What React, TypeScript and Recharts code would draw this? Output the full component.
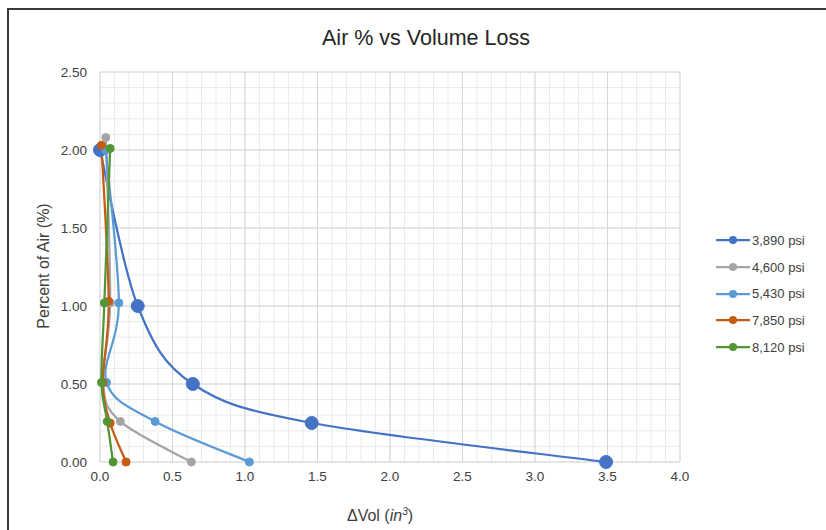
import React from 'react';
import { LineChart, Line, XAxis, YAxis, CartesianGrid, Legend } from 'recharts';

// ---- data ----
const seriesNames = ['3,890 psi', '4,600 psi', '5,430 psi', '7,850 psi', '8,120 psi'];
const seriesColors = ['#4472C4', '#A5A5A5', '#5B9BD5', '#C55A11', '#529535'];
const markerRadius = [6.5, 4, 4, 4, 4];

const psi3890 = [
  { x: 0.0, y: 2.0 },
  { x: 0.26, y: 1.0 },
  { x: 0.64, y: 0.5 },
  { x: 1.46, y: 0.25 },
  { x: 3.49, y: 0.0 },
];
const psi4600 = [
  { x: 0.04, y: 2.08 },
  { x: 0.07, y: 1.02 },
  { x: 0.02, y: 0.51 },
  { x: 0.14, y: 0.26 },
  { x: 0.63, y: 0.0 },
];
const psi5430 = [
  { x: 0.04, y: 2.0 },
  { x: 0.13, y: 1.02 },
  { x: 0.045, y: 0.51 },
  { x: 0.38, y: 0.26 },
  { x: 1.03, y: 0.0 },
];
const psi7850 = [
  { x: 0.01, y: 2.03 },
  { x: 0.06, y: 1.03 },
  { x: 0.02, y: 0.51 },
  { x: 0.07, y: 0.25 },
  { x: 0.18, y: 0.0 },
];
const psi8120 = [
  { x: 0.07, y: 2.01 },
  { x: 0.03, y: 1.02 },
  { x: 0.01, y: 0.51 },
  { x: 0.05, y: 0.26 },
  { x: 0.09, y: 0.0 },
];
const seriesData = [psi3890, psi4600, psi5430, psi7850, psi8120];

const xTicks = [0, 0.5, 1, 1.5, 2, 2.5, 3, 3.5, 4];
const yTicks = [0, 0.5, 1, 1.5, 2, 2.5];
const xMinorTicks = Array.from({ length: 41 }, (_, i) => i / 10);
const yMinorTicks = Array.from({ length: 26 }, (_, i) => i / 10);

const titleText = 'Air % vs Volume Loss';
const yTitle = 'Percent of Air (%)';

const FONT = '"Liberation Sans", Arial, sans-serif';
const TEXT = '#404040';

const applyScale = (scale: any, v: number): number => {
  if (typeof scale === 'function') return scale(v);
  if (scale && typeof scale.map === 'function') return scale.map(v);
  return NaN;
};

// Excel-like smoothing (Catmull-Rom via cubic Bezier)
function smoothCurve(context: any) {
  let pts: number[][] = [];
  return {
    areaStart() {},
    areaEnd() {},
    lineStart() {
      pts = [];
    },
    point(x: number, y: number) {
      pts.push([+x, +y]);
    },
    lineEnd() {
      const n = pts.length;
      if (!n) return;
      context.moveTo(pts[0][0], pts[0][1]);
      for (let i = 0; i < n - 1; i++) {
        const p0 = pts[i - 1] || pts[i];
        const p1 = pts[i];
        const p2 = pts[i + 1];
        const p3 = pts[i + 2] || p2;
        const t = 1 / 6;
        context.bezierCurveTo(
          p1[0] + (p2[0] - p0[0]) * t,
          p1[1] + (p2[1] - p0[1]) * t,
          p2[0] - (p3[0] - p1[0]) * t,
          p2[1] - (p3[1] - p1[1]) * t,
          p2[0],
          p2[1]
        );
      }
    },
  };
}

const renderLegend = (props: any) => {
  const payload = props.payload || [];
  return (
    <div style={{ fontFamily: FONT }}>
      {payload.map((e: any, i: number) => (
        <div key={i} style={{ display: 'flex', alignItems: 'center', height: 26.7 }}>
          <svg width={34} height={10} style={{ display: 'block' }}>
            <line x1={0} y1={5} x2={34} y2={5} stroke={e.color} strokeWidth={2.25} />
            <circle cx={17} cy={5} r={4} fill={e.color} />
          </svg>
          <span style={{ marginLeft: 2, fontSize: 13, color: TEXT, whiteSpace: 'nowrap' }}>{e.value}</span>
        </div>
      ))}
    </div>
  );
};

export default function App() {
  return (
    <div style={{ position: 'fixed', left: 0, top: 0, width: 826, height: 530, overflow: 'hidden', background: '#fff' }}>
      <div
        style={{
          position: 'absolute',
          left: 7,
          top: 8,
          width: 840,
          height: 540,
          border: '2px solid #3a3a3a',
          boxSizing: 'border-box',
        }}
      />
      <div style={{ position: 'absolute', left: 0, top: 0 }}>
        <LineChart width={826} height={530} margin={{ top: 72, right: 146, left: 0, bottom: 0 }}>
          <CartesianGrid
            stroke="#ebebeb"
            strokeWidth={1}
            verticalCoordinatesGenerator={(p: any) => xMinorTicks.map((v) => applyScale(p.xAxis && p.xAxis.scale, v))}
            horizontalCoordinatesGenerator={(p: any) => yMinorTicks.map((v) => applyScale(p.yAxis && p.yAxis.scale, v))}
          />
          <CartesianGrid stroke="#d6d6d6" strokeWidth={1} />
          <XAxis
            type="number"
            dataKey="x"
            domain={[0, 4]}
            ticks={xTicks}
            tickFormatter={(v: number) => v.toFixed(1)}
            axisLine={false}
            tickLine={false}
            tickSize={0}
            tickMargin={9}
            height={68}
            tick={{ fill: TEXT, fontSize: 13.5, fontFamily: FONT }}
            interval={0}
          />
          <YAxis
            type="number"
            domain={[0, 2.5]}
            ticks={yTicks}
            tickFormatter={(v: number) => v.toFixed(2)}
            axisLine={false}
            tickLine={false}
            tickSize={0}
            tickMargin={13}
            width={100}
            tick={{ fill: TEXT, fontSize: 13.5, fontFamily: FONT }}
            interval={0}
          />
          {seriesData.map((d, i) => (
            <Line
              key={seriesNames[i]}
              data={d}
              dataKey="y"
              name={seriesNames[i]}
              type={smoothCurve as any}
              stroke={seriesColors[i]}
              strokeWidth={2.25}
              dot={{ r: markerRadius[i], fill: seriesColors[i], stroke: seriesColors[i], strokeWidth: 1 }}
              activeDot={false}
              isAnimationActive={false}
            />
          ))}
          <Legend
            layout="vertical"
            align="center"
            verticalAlign="middle"
            content={renderLegend}
            wrapperStyle={{ position: 'absolute', left: 716, top: 227, width: 110, height: 140 }}
          />
        </LineChart>
      </div>
      <svg width={826} height={530} style={{ position: 'absolute', left: 0, top: 0, pointerEvents: 'none' }}>
        <text x={426} y={45} textAnchor="middle" fontFamily={FONT} fontSize={21.5} fill="#262626">
          {titleText}
        </text>
        <text
          x={0}
          y={0}
          transform="translate(49, 266) rotate(-90)"
          textAnchor="middle"
          fontFamily={FONT}
          fontSize={16}
          fill={TEXT}
        >
          {yTitle}
        </text>
        <text x={380} y={521} textAnchor="middle" fontFamily={FONT} fontSize={16} fill={TEXT}>
          <tspan>ΔVol (</tspan>
          <tspan fontStyle="italic">in</tspan>
          <tspan fontStyle="italic" fontSize={10} dy={-6}>3</tspan>
          <tspan dy={6}>)</tspan>
        </text>
      </svg>
    </div>
  );
}
